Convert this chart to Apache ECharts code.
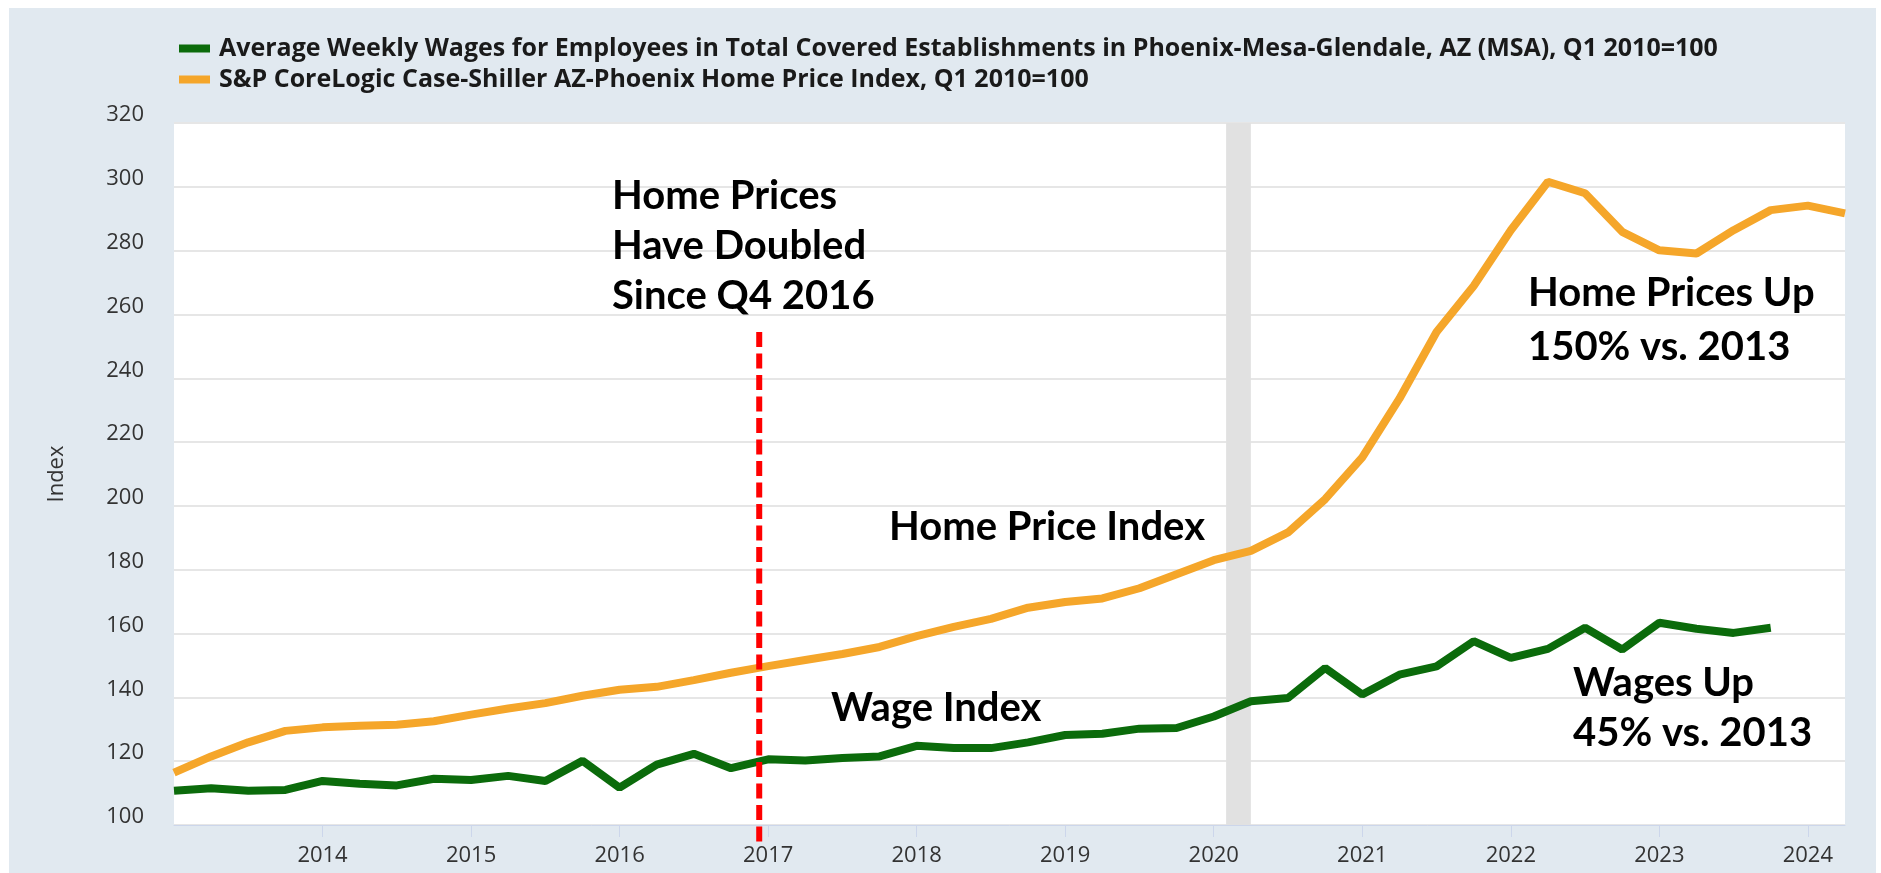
<!DOCTYPE html>
<html>
<head>
<meta charset="utf-8">
<script src="https://cdn.jsdelivr.net/npm/echarts@6/dist/echarts.min.js"></script>
<style>
  html, body { margin: 0; padding: 0; background: #fff; }
  #chart { width: 1881px; height: 873px; }
</style>
</head>
<body>
<div id="chart"></div>
<script>
// quarters (start of quarter), Q1 2013 .. Q2 2024
const quarters = [
  '2013 Q1', '2013 Q2', '2013 Q3', '2013 Q4',
  '2014 Q1', '2014 Q2', '2014 Q3', '2014 Q4',
  '2015 Q1', '2015 Q2', '2015 Q3', '2015 Q4',
  '2016 Q1', '2016 Q2', '2016 Q3', '2016 Q4',
  '2017 Q1', '2017 Q2', '2017 Q3', '2017 Q4',
  '2018 Q1', '2018 Q2', '2018 Q3', '2018 Q4',
  '2019 Q1', '2019 Q2', '2019 Q3', '2019 Q4',
  '2020 Q1', '2020 Q2', '2020 Q3', '2020 Q4',
  '2021 Q1', '2021 Q2', '2021 Q3', '2021 Q4',
  '2022 Q1', '2022 Q2', '2022 Q3', '2022 Q4',
  '2023 Q1', '2023 Q2', '2023 Q3', '2023 Q4',
  '2024 Q1', '2024 Q2'
];

// S&P CoreLogic Case-Shiller AZ-Phoenix, Q1 2010=100
const homePrice = [
  116.4, 121.5, 125.9, 129.5,
  130.6, 131.1, 131.4, 132.5,
  134.6, 136.5, 138.2, 140.5,
  142.4, 143.3, 145.4, 147.7,
  149.8, 151.7, 153.6, 155.8,
  159.2, 162.1, 164.6, 168.1,
  169.9, 171.0, 174.2, 178.6,
  183.0, 185.9, 191.7, 202.1,
  215.2, 233.6, 254.5, 268.9,
  286.4, 301.6, 298.0, 285.9,
  280.1, 279.1, 286.4, 292.7,
  294.1, 291.7
];

// average weekly wages, Phoenix-Mesa-Glendale, Q1 2010=100 (ends Q4 2023)
const wages = [
  110.7, 111.5, 110.7, 111.0,
  113.8, 112.9, 112.4, 114.5,
  114.1, 115.4, 113.8, 120.1,
  111.7, 118.9, 122.3, 117.8,
  120.6, 120.2, 121.0, 121.5,
  124.8, 124.1, 124.1, 125.9,
  128.2, 128.6, 130.2, 130.4,
  134.0, 138.8, 139.8, 149.2,
  140.9, 147.1, 149.7, 157.6,
  152.4, 155.2, 161.8, 155.0,
  163.4, 161.5, 160.2, 161.8
];

const yearTicks = [2014, 2015, 2016, 2017, 2018, 2019, 2020, 2021, 2022, 2023, 2024];
const recession = [2020 + 1 / 12, 2020.25];   // Feb 2020 - Apr 2020
const markerYear = 2016.94;                   // "since Q4 2016" marker

const wageName = 'Average Weekly Wages for Employees in Total Covered Establishments in Phoenix-Mesa-Glendale, AZ (MSA), Q1 2010=100';
const homeName = 'S&P CoreLogic Case-Shiller AZ-Phoenix Home Price Index, Q1 2010=100';

function toYear(q) {
  const parts = q.split(' Q');
  return Number(parts[0]) + (Number(parts[1]) - 1) / 4;
}
const homeData = homePrice.map((v, i) => [toYear(quarters[i]), v]);
const wageData = wages.map((v, i) => [toYear(quarters[i]), v]);

const notes = [
  { text: 'Home Prices\nHave Doubled\nSince Q4 2016', x: 612, y: 171, lh: 50 },
  { text: 'Home Price Index', x: 889, y: 502, lh: 50 },
  { text: 'Wage Index', x: 831, y: 683, lh: 50 },
  { text: 'Home Prices Up\n150% vs. 2013', x: 1528, y: 266, lh: 54 },
  { text: 'Wages Up\n45% vs. 2013', x: 1573, y: 658, lh: 50 }
];

const chart = echarts.init(document.getElementById('chart'));
const font = '"Open Sans", "DejaVu Sans", sans-serif';

const option = {
  backgroundColor: '#e1e9f0',
  animation: false,
  legend: {
    orient: 'vertical',
    left: 174,
    top: 31,
    itemWidth: 31,
    itemHeight: 8,
    itemGap: 6,
    icon: 'rect',
    textStyle: {
      fontFamily: font,
      fontWeight: 'bold',
      fontSize: 25,
      lineHeight: 22,
      color: '#1a1a1a',
      padding: [0, 0, 0, 4]
    },
    data: [wageName, homeName]
  },
  grid: {
    left: 174,
    right: 36,
    top: 123,
    bottom: 48,
    show: true,
    backgroundColor: '#fff',
    borderWidth: 0
  },
  xAxis: {
    type: 'value',
    min: 2013,
    max: 2024.25,
    interval: 1,
    axisLine: { show: true, lineStyle: { color: '#ccd6eb', width: 1 } },
    axisTick: { show: true, length: 12, customValues: yearTicks, lineStyle: { color: '#ccd6eb' } },
    axisLabel: {
      customValues: yearTicks,
      margin: 20,
      fontFamily: font,
      fontSize: 22,
      color: '#333',
      formatter: v => String(v)
    },
    splitLine: { show: false }
  },
  yAxis: {
    type: 'value',
    min: 100,
    max: 320,
    interval: 20,
    name: 'Index',
    nameLocation: 'middle',
    nameRotate: 90,
    nameGap: 106,
    nameTextStyle: { fontFamily: font, fontSize: 22, color: '#333' },
    axisLine: { show: false },
    axisTick: { show: false },
    axisLabel: {
      margin: 30,
      fontFamily: font,
      fontSize: 22,
      lineHeight: 16,
      color: '#333',
      verticalAlign: 'bottom'
    },
    splitLine: { lineStyle: { color: '#e6e6e6', width: 2 } }
  },
  series: [
    {
      name: wageName,
      type: 'line',
      data: wageData,
      showSymbol: false,
      color: '#0b6b0b',
      lineStyle: { width: 8, color: '#0b6b0b' },
      z: 3
    },
    {
      name: homeName,
      type: 'line',
      data: homeData,
      showSymbol: false,
      color: '#f5a62a',
      lineStyle: { width: 8, color: '#f5a62a' },
      z: 3,
      markArea: {
        silent: true,
        itemStyle: { color: '#e1e1e1' },
        data: [[{ xAxis: recession[0] }, { xAxis: recession[1] }]]
      }
    }
  ]
};
chart.setOption(option);

// frame, marker line and annotations
const markerX = chart.convertToPixel({ gridIndex: 0 }, [markerYear, 200])[0];
const graphics = [
  { type: 'rect', shape: { x: 0, y: 0, width: 1881, height: 8 }, style: { fill: '#fff' }, z: 50 },
  { type: 'rect', shape: { x: 0, y: 0, width: 9, height: 873 }, style: { fill: '#fff' }, z: 50 },
  { type: 'rect', shape: { x: 1876, y: 0, width: 5, height: 873 }, style: { fill: '#fff' }, z: 50 },
  {
    type: 'line',
    shape: { x1: markerX, y1: 332, x2: markerX, y2: 845 },
    style: { stroke: '#ff0000', lineWidth: 6, lineDash: [15, 6.5] },
    z: 60
  }
];
notes.forEach(n => {
  graphics.push({
    type: 'text',
    x: n.x,
    y: n.y,
    z: 60,
    style: {
      text: n.text,
      font: 'bold 40px Lato, "Open Sans", sans-serif',
      fill: '#000',
      lineHeight: n.lh,
      verticalAlign: 'top',
      align: 'left'
    }
  });
});
chart.setOption({ graphic: graphics });
</script>
</body>
</html>
